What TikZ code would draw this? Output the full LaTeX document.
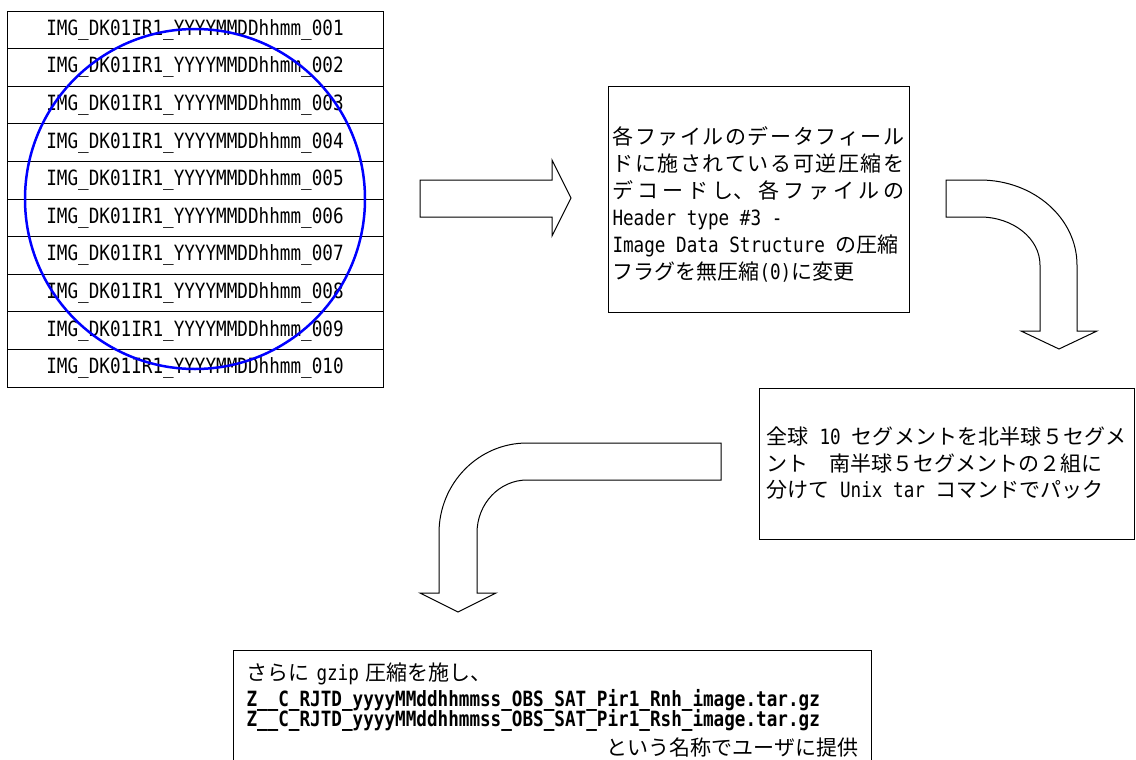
\documentclass[tikz,border=0pt]{standalone}
\usepackage{fontspec}
\setmainfont{Noto Sans CJK JP}
\newfontfamily\lat[FakeStretch=0.84]{DejaVu Sans Mono}

\begin{document}
\begin{tikzpicture}[x=0.5pt, y=-0.5pt,
    box/.style={draw, line width=0.5pt, inner sep=0pt},
    filerow/.style={draw, line width=0.5pt, minimum width=188pt, minimum height=18.8pt, inner sep=0pt,
      font=\lat\fontsize{10.5pt}{12pt}\selectfont},
    blockarrow/.style={draw, line width=0.5pt, fill=white}]
  \useasboundingbox (0,0) rectangle (1136,760);

  % file list and the ring round it
  \foreach \i in {1,...,10}
    \node[filerow] (row\i) at (195, {11+37.6*(\i-0.5)})
      {IMG\_DK01IR1\_YYYYMMDDhhmm\_\ifnum\i<10 00\i\else 0\i\fi};
  \node[circle, draw=blue, line width=1.25pt, minimum size=170pt, inner sep=0pt] (ring) at (195,199) {};

  % block arrows
  \draw[blockarrow] (420,180) -- (552,180) -- (552,160) -- (571,198) -- (552,236) -- (552,217) -- (420,217) -- cycle;
  \draw[blockarrow] (946,180) -- (980,180) .. controls (1033.6,180) and (1077,218.1) .. (1077,265)
    -- (1077,331) -- (1097,331) -- (1059,349) -- (1021,331) -- (1040,331) -- (1040,265)
    .. controls (1040,238.5) and (1013.1,217) .. (980,217) -- (946,217) -- cycle;
  \draw[blockarrow] (721,443) -- (527,443) .. controls (478.4,443) and (439,483.3) .. (439,533)
    -- (439,593) -- (420,593) -- (458,612) -- (496,593) -- (477,593) -- (477,533)
    .. controls (477,503.7) and (499.4,480) .. (527,480) -- (721,480) -- cycle;

  % steps
  \node[box, minimum width=150.5pt, minimum height=113pt, text width=146pt, align=justify,
      font=\fontsize{10.5pt}{13.5pt}\selectfont] (decode) at (758.5,199) {%
    \XeTeXlinebreaklocale "ja"\XeTeXlinebreakskip=0pt plus 1pt
    \rule{0pt}{14pt}各ファイルのデータフィール\linebreak
    ドに施されている可逆圧縮を\linebreak
    デコードし、各ファイルの\linebreak
    {\lat Header type \#3 -}\\
    {\lat Image Data Structure }の圧縮\\
    フラグを無圧縮{\lat (0)}に変更};
  \node[box, minimum width=187.5pt, minimum height=75.5pt, text width=180pt, align=justify,
      font=\fontsize{10.5pt}{13.25pt}\selectfont] (pack) at (946.5,463.5) {%
    \XeTeXlinebreaklocale "ja"\XeTeXlinebreakskip=0pt plus 1pt
    全球{\lat\ 10\ }セグメントを北半球５セグメ\linebreak
    ント　南半球５セグメントの２組に\\
    分けて{\lat\ Unix tar\ }コマンドでパック};
  \node[box, anchor=north west, text width=306pt, inner xsep=6.5pt, inner ysep=6pt, align=left,
      font=\fontsize{10.5pt}{10pt}\selectfont] (provide) at (233,650) {%
    \lineskiplimit=-5pt
    さらに{\lat\ gzip\ }圧縮を施し、\\[3.3pt]
    {\lat\bfseries Z\_\_C\_RJTD\_yyyyMMddhhmmss\_OBS\_SAT\_Pir1\_Rnh\_image.tar.gz}\\
    {\lat\bfseries Z\_\_C\_RJTD\_yyyyMMddhhmmss\_OBS\_SAT\_Pir1\_Rsh\_image.tar.gz}\\[2.2pt]
    \hspace*{0pt plus 1filll}という名称でユーザに提供};
\end{tikzpicture}
\end{document}
